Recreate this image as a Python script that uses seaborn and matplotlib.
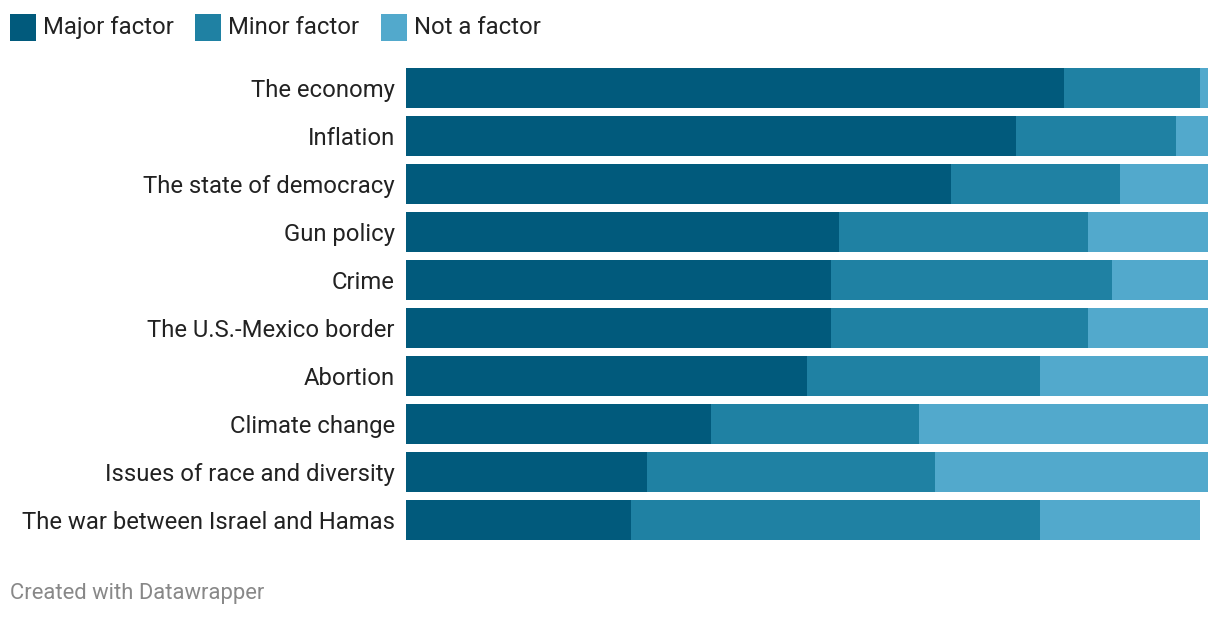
import matplotlib
matplotlib.use("Agg")
import matplotlib.pyplot as plt
import matplotlib.patches as mpatches
import seaborn as sns
import pandas as pd

categories = ["The economy", "Inflation", "The state of democracy", "Gun policy", "Crime",
              "The U.S.-Mexico border", "Abortion", "Climate change",
              "Issues of race and diversity", "The war between Israel and Hamas"]
major = [82, 76, 68, 54, 53, 53, 50, 38, 30, 28]
minor = [17, 20, 21, 31, 35, 32, 29, 26, 36, 51]
not_factor = [1, 4, 11, 15, 12, 15, 21, 36, 34, 20]
series_names = ["Major factor", "Minor factor", "Not a factor"]
colors = ["#015A7C", "#1F81A3", "#52A9CC"]

sns.set_theme(style="white")
plt.rcParams['font.family'] = ['Roboto', 'DejaVu Sans']

df = pd.DataFrame({"cat": categories, "major": major, "minor": minor, "not": not_factor})
df["c1"] = df["major"]
df["c2"] = df["major"] + df["minor"]
df["c3"] = df["c2"] + df["not"]

fig = plt.figure(figsize=(12.2, 6.18), dpi=100)
ax = fig.add_axes([406/1220, 1 - 544/618, (1208 - 406)/1220, 480/618])

for col, c in zip(["c3", "c2", "c1"], colors[::-1]):
    sns.barplot(data=df, x=col, y="cat", color=c, orient="h", width=0.833,
                ax=ax, saturation=1, linewidth=0, order=categories)

ax.set_xlim(0, 100)
ax.set_ylim(9.5, -0.5)
ax.set_xlabel("")
ax.set_ylabel("")
ax.set_xticks([])
ax.tick_params(axis="y", length=0, pad=8, labelsize=17.2, labelcolor="#222222")
for lbl in ax.get_yticklabels():
    lbl.set_va("center_baseline")
for s in ax.spines.values():
    s.set_visible(False)

# legend
positions = [10, 195, 381]
for px, name, c in zip(positions, series_names, colors):
    fig.patches.append(mpatches.Rectangle((px/1220, 1 - 41/618), 26/1220, 27/618,
                                          transform=fig.transFigure, facecolor=c,
                                          edgecolor="none"))
    fig.text((px + 33)/1220, 1 - 27.5/618, name, fontsize=17.2, color="#222222",
             va="center", ha="left")

fig.text(10/1220, 1 - 593.5/618, "Created with Datawrapper", fontsize=15.8,
         color="#888888", va="center", ha="left")

fig.savefig("out.png", dpi=100, facecolor="white")
